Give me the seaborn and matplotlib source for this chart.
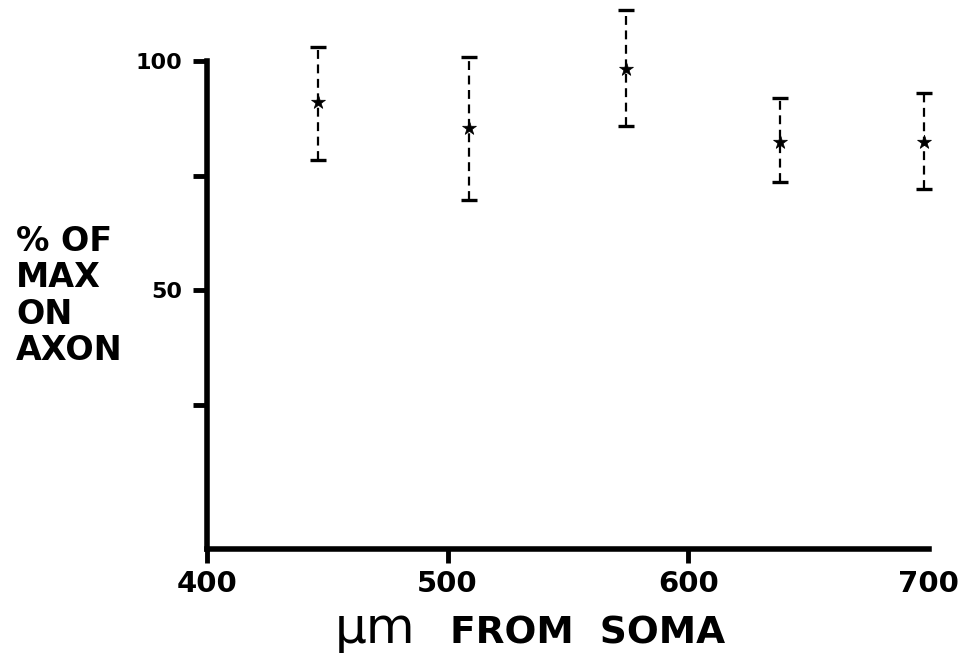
import numpy as np
import pandas as pd
import matplotlib
matplotlib.use("Agg")
import matplotlib.pyplot as plt
import seaborn as sns

# values
distance = [446, 509, 574, 638, 698]          # um from soma
pct_max = [91.1, 85.3, 98.3, 82.4, 82.4]      # % of max on axon
err_low = [78.4, 69.7, 85.8, 73.5, 72.0]
err_high = [103.1, 100.8, 111.1, 92.0, 93.0]

x_ticks = [400, 500, 600, 700]
y_ticks = [25, 50, 75, 100]
y_tick_labels = ["", "50", "", "100"]

df = pd.DataFrame({"distance": distance, "pct": pct_max,
                   "lo": err_low, "hi": err_high})

sns.set_theme(style="white")
plt.rcParams["font.family"] = ["DejaVu Sans"]
plt.rcParams["text.color"] = "black"

fig = plt.figure(figsize=(9.75, 6.64), dpi=100)
ax = fig.add_axes([0.2123, 0.1732, 0.77, 0.825])

# dashed error bars
yerr = np.vstack([df["pct"] - df["lo"], df["hi"] - df["pct"]])
eb = ax.errorbar(df["distance"], df["pct"], yerr=yerr, fmt="none",
                 ecolor="black", elinewidth=1.6, capsize=6, capthick=2.4,
                 clip_on=False)
eb[2][0].set_linestyle((0, (4, 2.5)))

# star markers
sns.scatterplot(data=df, x="distance", y="pct", marker="*", s=110,
                color="black", edgecolor="black", linewidth=0.5, ax=ax,
                zorder=5, clip_on=False)

ax.set_xlim(400, 712)
ax.set_ylim(-6.4, 113)

for side in ["top", "right"]:
    ax.spines[side].set_visible(False)
for side in ["left", "bottom"]:
    ax.spines[side].set_linewidth(4)
    ax.spines[side].set_color("black")
ax.spines["left"].set_bounds(-6.4, 100)
ax.spines["bottom"].set_bounds(400, 700)

ax.set_xticks(x_ticks)
ax.set_xticklabels([str(t) for t in x_ticks])
ax.set_yticks(y_ticks)
ax.set_yticklabels(y_tick_labels)
ax.tick_params(axis="both", direction="out", length=10, width=3.5,
               colors="black", bottom=True, left=True)
ax.tick_params(axis="y", pad=8, labelsize=16)
ax.tick_params(axis="x", pad=5, labelsize=21)
ax.xaxis.get_major_ticks()[3].tick1line.set_visible(False)
for lab in ax.get_xticklabels() + ax.get_yticklabels():
    lab.set_fontweight("bold")

ax.set_xlabel("")
ax.set_ylabel("")

# y axis label, stacked text to the left
fig.text(16 / 975, 1 - 296 / 664, "% OF\nMAX\nON\nAXON", ha="left",
         va="center", fontsize=24, fontweight="bold", linespacing=1.12,
         color="black")

# x axis label: thin "um" then bold words
fig.text(335 / 975, 1 - 643 / 664, "\u03bcm", ha="left", va="baseline",
         fontsize=36, fontweight="normal", color="black")
fig.text(450 / 975, 1 - 643 / 664, "FROM  SOMA", ha="left", va="baseline",
         fontsize=27, fontweight="bold", color="black")

fig.savefig("out.png", dpi=100)
